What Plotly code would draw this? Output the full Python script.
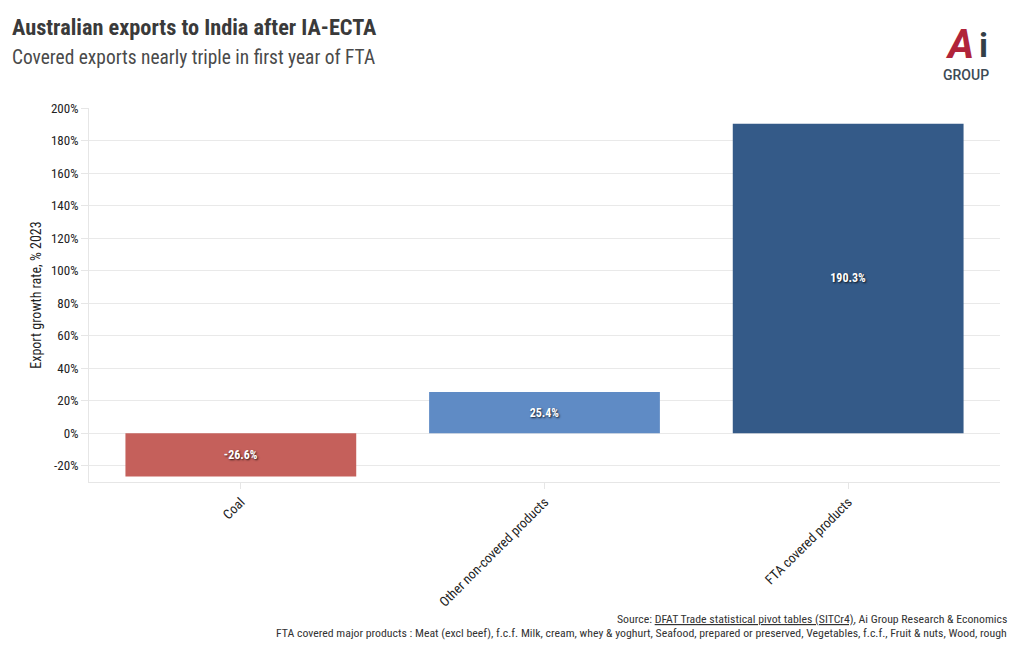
import plotly.graph_objects as go

categories = ["Coal", "Other non-covered products", "FTA covered products"]
growth = [-26.6, 25.4, 190.3]
bar_colors = ["#c5605b", "#5f8bc5", "#345a88"]
y_ticks = [-20, 0, 20, 40, 60, 80, 100, 120, 140, 160, 180, 200]
y_tick_labels = [f"{v}%" for v in y_ticks]

FONT = "Roboto Condensed, Liberation Sans Narrow, Roboto, sans-serif"

# page body has an 8px margin, so the figure is drawn 8px smaller and offset
OFF = 8
W, H = 1020 - OFF, 650 - OFF
L, R, T, B = 89 - OFF, 20, 108 - OFF, 168

fig = go.Figure()
fig.add_trace(go.Bar(
    x=categories,
    y=growth,
    marker=dict(color=bar_colors, line=dict(width=0)),
    text=[f"{v:.1f}%" for v in growth],
    textposition="inside",
    insidetextanchor="middle",
    textangle=0,
    textfont=dict(family=FONT, size=12, color="white", weight="bold",
                  shadow="1px 1px 2px rgba(0,0,0,0.8)"),
    hoverinfo="x+y",
))

fig.update_layout(
    width=W, height=H,
    margin=dict(l=L, r=R, t=T, b=B),
    paper_bgcolor="white", plot_bgcolor="white",
    bargap=0.24,
    showlegend=False,
    font=dict(family=FONT, size=12, color="#222"),
    xaxis=dict(
        tickangle=-45, showgrid=False, showline=True, linecolor="#e6e6e6",
        ticks="outside", ticklen=6, tickcolor="#e6e6e6",
        tickfont=dict(family=FONT, size=13.5, color="#222"),
    ),
    yaxis=dict(
        range=[-30, 200], tickvals=y_ticks, ticktext=y_tick_labels,
        showgrid=True, gridcolor="#e9e9e9", zeroline=False,
        showline=True, linecolor="#e6e6e6",
        ticks="outside", ticklen=7, tickcolor="#e6e6e6",
        tickfont=dict(family=FONT, size=13, color="#222"),
        title=dict(text="Export growth rate, % 2023", font=dict(family=FONT, size=14, color="#222"), standoff=6),
    ),
)

annotations = [
    dict(text="<b>Australian exports to India after IA-ECTA</b>", x=10, y=27,
         font=dict(family=FONT, size=22.3, color="#3a3a3a")),
    dict(text="Covered exports nearly triple in first year of FTA", x=10, y=58,
         font=dict(family=FONT, size=19.4, color="#4a4a4a")),
    dict(text="Source: <u>DFAT Trade statistical pivot tables (SITCr4)</u>, Ai Group Research & Economics",
         x=1009, y=619, xanchor="right", font=dict(family=FONT, size=11.8, color="#333")),
    dict(text="FTA covered major products : Meat (excl beef), f.c.f. Milk, cream, whey & yoghurt, Seafood, prepared or preserved, Vegetables, f.c.f., Fruit & nuts, Wood, rough",
         x=1009, y=633, xanchor="right", font=dict(family=FONT, size=11.8, color="#333")),
    dict(text="<b><i>A</i></b>", x=959, y=44, xanchor="center",
         font=dict(family="Roboto, sans-serif", size=40, color="#b0243a")),
    dict(text="<b>i</b>", x=983, y=45, xanchor="center",
         font=dict(family="Roboto, sans-serif", size=34, color="#333f48")),
    dict(text="GROUP", x=966, y=75, xanchor="center",
         font=dict(family="Roboto, sans-serif", size=14, color="#3d4a55", weight=500)),
]
for a in annotations:
    px, py = a["x"] - OFF, a["y"] - OFF
    a["xref"] = "paper"
    a["yref"] = "paper"
    a["x"] = (px - L) / (W - L - R)
    a["y"] = (H - B - py) / (H - T - B)
    a.setdefault("xanchor", "left")
    a["yanchor"] = "middle"
    a["showarrow"] = False
fig.update_layout(annotations=annotations)

fig.write_html("out.html")
